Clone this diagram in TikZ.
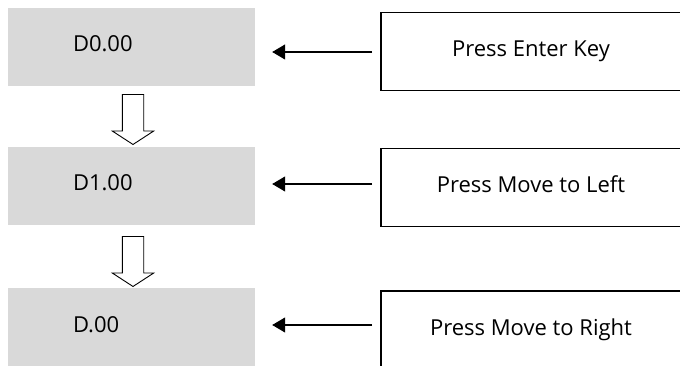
\documentclass[tikz,border=0pt]{standalone}
\usepackage{fontspec}
\setmainfont{Open Sans}
\usetikzlibrary{positioning,shapes.arrows,arrows.meta}
\definecolor{lcdgray}{HTML}{D9D9D9}

\begin{document}
\begin{tikzpicture}[x=1pt,y=-1pt,
    font=\fontsize{22}{26}\selectfont,
    display/.style={rectangle, fill=lcdgray, minimum width=247pt, minimum height=78pt,
      inner xsep=65pt, inner ysep=0pt, text width=117pt, align=left,
      text height=16pt, text depth=6pt},
    keybox/.style={rectangle, draw, line width=1.3pt, minimum width=300pt,
      minimum height=78pt, text height=16pt, text depth=6pt},
    push/.style={-{Triangle[length=13pt,width=15pt]}, line width=1.3pt, shorten >=17pt},
    nextstep/.style={single arrow, draw, fill=white, line width=0.9pt, rotate=-90,
      inner sep=0pt, text height=20.5pt, text depth=0pt, minimum height=50pt,
      single arrow head extend=10pt, single arrow tip angle=114}
    ]
\useasboundingbox (0,0) rectangle (680,366);

% display states
\node[display] (d0) at (131.5,47)  {D0.00};
\node[display] (d1) at (131.5,186) {D1.00};
\node[display] (d2) at (131.5,327) {D.00};

% key presses
\node[keybox] (k0) at (531,51.5)  {Press Enter Key};
\node[keybox] (k1) at (531,187.5) {Press Move to Left};
\node[keybox] (k2) at (531,330)   {Press Move to Right};

\coordinate (p0) at (372,52);
\coordinate (p1) at (372,184);
\coordinate (p2) at (372,325);
\draw[push] (p0) -- (p0 -| d0.east);
\draw[push] (p1) -- (p1 -| d1.east);
\draw[push] (p2) -- (p2 -| d2.east);

% down arrows
\node[nextstep] (s0) at (133,116) {};
\node[nextstep] (s1) at (133,258) {};
\end{tikzpicture}
\end{document}
